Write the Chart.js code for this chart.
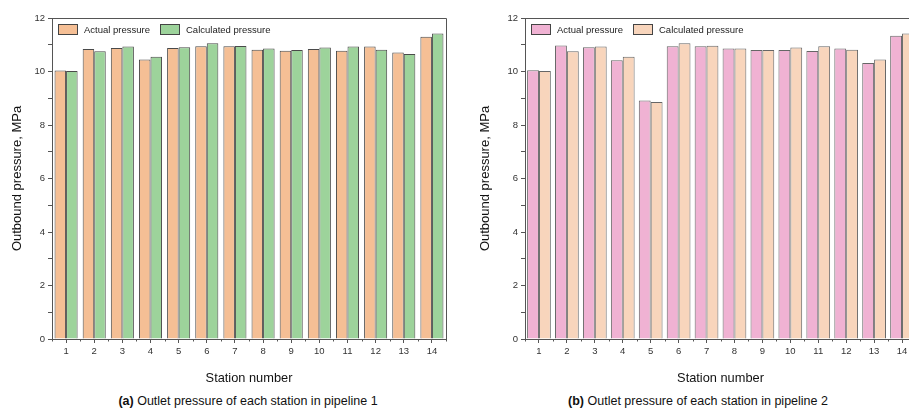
<!DOCTYPE html>
<html>
<head>
<meta charset="utf-8">
<script src="https://cdn.jsdelivr.net/npm/chart.js@4.4.0/dist/chart.umd.min.js"></script>
<style>
  html, body { margin: 0; padding: 0; background: #fff; overflow: hidden; width: 909px; height: 408px; }
  .wrap { position: absolute; top: 0; width: 460px; height: 386px; }
  .cap { position: absolute; top: 393px; font-family: "Liberation Sans", Arial, sans-serif; font-size: 12.5px; color: #111; white-space: nowrap; transform: translateX(-50%); line-height: 16px; }
</style>
</head>
<body>
<div class="wrap" style="left:0px"><canvas id="c1" width="460" height="386"></canvas></div>
<div class="wrap" style="left:473px"><canvas id="c2" width="460" height="386"></canvas></div>
<div class="cap" style="left:248px"><b>(a)</b> Outlet pressure of each station in pipeline 1</div>
<div class="cap" style="left:698px"><b>(b)</b> Outlet pressure of each station in pipeline 2</div>
<script>
const stations = ['1','2','3','4','5','6','7','8','9','10','11','12','13','14'];
const seriesNames = ['Actual pressure', 'Calculated pressure'];
const yTicks = [0, 2, 4, 6, 8, 10, 12];

const p1Actual     = [10.04, 10.84, 10.88, 10.45, 10.88, 10.94, 10.94, 10.81, 10.78, 10.84, 10.78, 10.93, 10.71, 11.30];
const p1Calculated = [10.02, 10.76, 10.93, 10.55, 10.91, 11.06, 10.95, 10.86, 10.80, 10.90, 10.93, 10.81, 10.65, 11.42];
const p2Actual     = [10.05, 10.97, 10.91, 10.42, 8.92, 10.94, 10.94, 10.86, 10.80, 10.80, 10.77, 10.86, 10.32, 11.34];
const p2Calculated = [10.02, 10.76, 10.93, 10.55, 8.86, 11.06, 10.96, 10.86, 10.80, 10.90, 10.94, 10.81, 10.45, 11.42];

const FONT = '"Liberation Sans", Arial, sans-serif';
const AXIS = '#555';

const framePlugin = {
  id: 'frame',
  afterDraw(chart) {
    const {ctx, chartArea: a, scales} = chart;
    ctx.save();
    ctx.strokeStyle = AXIS;
    ctx.lineWidth = 1;
    ctx.beginPath();
    ctx.moveTo(a.left, a.top + 0.5);
    ctx.lineTo(a.right + 0.5, a.top + 0.5);
    ctx.lineTo(a.right + 0.5, a.bottom);
    ctx.stroke();
    // minor ticks on x axis at category boundaries
    const xs = scales.x;
    const n = xs.ticks.length;
    const step = n > 1 ? (xs.getPixelForValue(1) - xs.getPixelForValue(0)) : 0;
    ctx.beginPath();
    for (let i = 0; i <= n; i++) {
      const px = Math.round(xs.getPixelForValue(0) - step / 2 + i * step) + 0.5;
      ctx.moveTo(px, a.bottom);
      ctx.lineTo(px, a.bottom + 2.5);
    }
    ctx.stroke();
    // legend inside plot
    const boxW = 20, boxH = 11;
    let x = a.left + 6;
    const y = a.top + 6;
    ctx.font = '9.5px ' + FONT;
    ctx.textBaseline = 'middle';
    chart.data.datasets.forEach(ds => {
      ctx.fillStyle = ds.backgroundColor;
      ctx.fillRect(x, y, boxW, boxH);
      ctx.strokeStyle = '#444';
      ctx.strokeRect(x + 0.5, y + 0.5, boxW - 1, boxH - 1);
      ctx.fillStyle = '#222';
      ctx.fillText(ds.label, x + boxW + 6, y + boxH / 2 + 0.5);
      x += boxW + 6 + ctx.measureText(ds.label).width + 10;
    });
    ctx.restore();
  }
};

function makeChart(id, actual, calc, colA, colC, borderCol, padRight, catPct, titlePad) {
  return new Chart(document.getElementById(id), {
    type: 'bar',
    data: {
      labels: stations,
      datasets: [
        { label: seriesNames[0], data: actual, backgroundColor: colA, borderColor: borderCol, borderWidth: 1 },
        { label: seriesNames[1], data: calc, backgroundColor: colC, borderColor: borderCol, borderWidth: 1 }
      ]
    },
    options: {
      responsive: false,
      animation: false,
      devicePixelRatio: 1,
      categoryPercentage: catPct,
      barPercentage: 1.0,
      layout: { padding: { left: 0, right: padRight, top: 18, bottom: 0 } },
      plugins: { legend: { display: false }, tooltip: { enabled: false } },
      scales: {
        x: {
          type: 'category',
          offset: true,
          grid: { offset: false, drawOnChartArea: false, tickLength: 4, color: AXIS, tickColor: AXIS },
          border: { color: AXIS, width: 1 },
          ticks: { font: { family: FONT, size: 9.5 }, color: '#333', padding: 3, maxRotation: 0 },
          title: { display: true, text: 'Station number', font: { family: FONT, size: 12.8 }, color: '#111', padding: { top: 8, bottom: 0 } },
          afterFit(scale) { scale.height = 386 - 339; }
        },
        y: {
          min: 0, max: 12,
          afterBuildTicks(scale) {
            const t = [];
            for (let v = 0; v <= 12; v++) t.push({ value: v });
            scale.ticks = t;
          },
          grid: { drawOnChartArea: false, tickLength: 4, color: AXIS, tickColor: AXIS },
          border: { color: AXIS, width: 1 },
          ticks: {
            font: { family: FONT, size: 9.5 }, color: '#333', padding: 3,
            callback: (v) => yTicks.includes(v) ? String(v) : ''
          },
          title: { display: true, text: 'Outbound pressure, MPa', font: { family: FONT, size: 13 }, color: '#111', padding: { top: titlePad, bottom: 0 } },
          afterFit(scale) { scale.width = 52; }
        }
      }
    },
    plugins: [framePlugin]
  });
}

makeChart('c1', p1Actual, p1Calculated, '#F5BF95', '#9DD39B', '#4a4a4a', 14, 0.82, 10);
makeChart('c2', p2Actual, p2Calculated, '#F0B2D3', '#F8D5BC', '#666', 17, 0.85, 5);
</script>
</body>
</html>
